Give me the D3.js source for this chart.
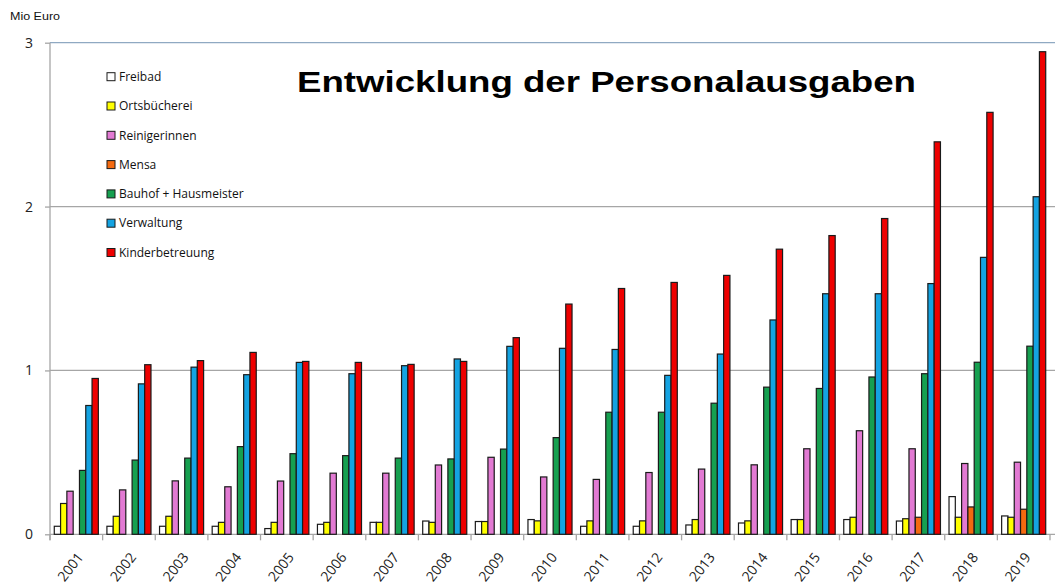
<!DOCTYPE html>
<html>
<head>
<meta charset="utf-8">
<script src="https://cdn.jsdelivr.net/npm/d3@7"></script>
<style>
  html, body { margin: 0; padding: 0; background: #fff; }
  svg { display: block; }
</style>
</head>
<body>
<svg id="chart" width="1055" height="585"></svg>
<script>
const years = ["2001","2002","2003","2004","2005","2006","2007","2008","2009","2010",
               "2011","2012","2013","2014","2015","2016","2017","2018","2019"];
const seriesNames = ["Freibad","Ortsbücherei","Reinigerinnen","Mensa","Bauhof + Hausmeister","Verwaltung","Kinderbetreuung"];
const seriesColors = ["#ffffff","#ffff00","#e27ad3","#f46a10","#16a050","#14a3e2","#ee0000"];

const freibad        = [0.049,0.049,0.049,0.049,0.035,0.061,0.073,0.081,0.078,0.090,0.049,0.049,0.057,0.069,0.090,0.090,0.081,0.230,0.112];
const ortsbuecherei  = [0.188,0.110,0.110,0.073,0.073,0.073,0.073,0.073,0.078,0.082,0.082,0.082,0.090,0.082,0.090,0.104,0.095,0.104,0.104];
const reinigerinnen  = [0.263,0.271,0.326,0.290,0.325,0.373,0.373,0.423,0.470,0.350,0.335,0.377,0.398,0.424,0.522,0.632,0.522,0.432,0.440];
const mensa          = [0,0,0,0,0,0,0,0,0,0,0,0,0,0,0,0,0.104,0.167,0.153];
const bauhof         = [0.390,0.453,0.465,0.535,0.492,0.480,0.465,0.460,0.520,0.590,0.745,0.745,0.800,0.898,0.890,0.960,0.980,1.050,1.148];
const verwaltung     = [0.786,0.918,1.020,0.974,1.049,0.980,1.029,1.070,1.147,1.135,1.128,0.970,1.100,1.308,1.468,1.468,1.530,1.690,2.060];
const kinderbetreuung= [0.951,1.035,1.060,1.110,1.055,1.049,1.037,1.055,1.200,1.405,1.500,1.537,1.580,1.740,1.823,1.927,2.395,2.575,2.945];

const yTicks = [0, 1, 2, 3];
const titleText = "Entwicklung der Personalausgaben";
const yUnitLabel = "Mio Euro";

const allSeries = [freibad, ortsbuecherei, reinigerinnen, mensa, bauhof, verwaltung, kinderbetreuung];

const svg = d3.select("#chart");
const plotLeft = 50, plotRight = 1050, plotTop = 42.7, plotBottom = 534.3;

const x0 = d3.scaleBand().domain(years).range([plotLeft, plotRight]).paddingInner(0).paddingOuter(0);
const x1 = d3.scaleBand().domain(seriesNames).range([0, x0.bandwidth()]).paddingInner(0).paddingOuter(0.68);
const y = d3.scaleLinear().domain([0, 3]).range([plotBottom, plotTop]);
const color = d3.scaleOrdinal().domain(seriesNames).range(seriesColors);

// gridlines
svg.append("g")
  .selectAll("line")
  .data(yTicks.filter(d => d > 0 && d < 3))
  .join("line")
  .attr("x1", plotLeft).attr("x2", 1055)
  .attr("y1", d => y(d)).attr("y2", d => y(d))
  .attr("stroke", "#a6a6a6").attr("stroke-width", 1.3);

// top border line
svg.append("line")
  .attr("x1", plotLeft).attr("x2", 1055)
  .attr("y1", y(3)).attr("y2", y(3))
  .attr("stroke", "#8fa9c2").attr("stroke-width", 1.3);

// y axis
const yAxis = d3.axisLeft(y).tickValues(yTicks).tickSize(5).tickPadding(12).tickFormat(d3.format("d"));
const gy = svg.append("g").attr("transform", `translate(${plotLeft},0)`).call(yAxis);
gy.select(".domain").remove();
gy.selectAll(".tick line").attr("stroke", "#a6a6a6").attr("stroke-width", 1.3);
gy.selectAll(".tick text").attr("font-family", "'Open Sans', sans-serif").attr("font-size", 14).attr("fill", "#222");
svg.append("line")
  .attr("x1", plotLeft).attr("x2", plotLeft).attr("y1", plotTop).attr("y2", plotBottom + 6)
  .attr("stroke", "#a6a6a6").attr("stroke-width", 1.3);

// x axis baseline and ticks at category boundaries
svg.append("line")
  .attr("x1", plotLeft).attr("x2", 1055).attr("y1", plotBottom).attr("y2", plotBottom)
  .attr("stroke", "#a6a6a6").attr("stroke-width", 1.3);
const boundaries = years.map(d => x0(d)).concat([x0(years[years.length-1]) + x0.bandwidth()]);
svg.append("g").selectAll("line").data(boundaries).join("line")
  .attr("x1", d => d).attr("x2", d => d).attr("y1", plotBottom).attr("y2", plotBottom + 6)
  .attr("stroke", "#a6a6a6").attr("stroke-width", 1.3);

// x labels
svg.append("g").selectAll("text").data(years).join("text")
  .attr("transform", d => `translate(${x0(d) + x0.bandwidth()/2 + 4},${plotBottom + 20}) rotate(-52)`)
  .attr("text-anchor", "end")
  .attr("dy", "0.35em")
  .attr("font-family", "'Open Sans', sans-serif")
  .attr("font-size", 14)
  .attr("fill", "#222")
  .text(d => d);

// bars
const barData = [];
years.forEach((yr, i) => {
  seriesNames.forEach((s, j) => {
    const v = allSeries[j][i];
    if (v > 0) barData.push({year: yr, series: s, value: v});
  });
});
svg.append("g").selectAll("rect").data(barData).join("rect")
  .attr("x", d => x0(d.year) + x1(d.series))
  .attr("width", x1.bandwidth())
  .attr("y", d => y(d.value))
  .attr("height", d => y(0) - y(d.value))
  .attr("fill", d => color(d.series))
  .attr("stroke", "#1a1a1a")
  .attr("stroke-width", 1.2);

// legend
const legend = svg.append("g");
seriesNames.forEach((s, i) => {
  const cy = 76.7 + i * 29.3;
  legend.append("rect")
    .attr("x", 107).attr("y", cy - 4).attr("width", 8).attr("height", 8)
    .attr("fill", color(s)).attr("stroke", "#1a1a1a").attr("stroke-width", 1);
  legend.append("text")
    .attr("x", 119).attr("y", cy).attr("dy", "0.35em")
    .attr("font-family", "'Open Sans', sans-serif").attr("font-size", 12)
    .attr("fill", "#111")
    .text(s);
});

// title
svg.append("text")
  .attr("x", 297).attr("y", 92)
  .attr("font-family", "'Liberation Sans', Arial, sans-serif")
  .attr("font-weight", "bold").attr("font-size", 29)
  .attr("textLength", 619).attr("lengthAdjust", "spacingAndGlyphs")
  .attr("fill", "#000")
  .text(titleText);

// unit label
svg.append("text")
  .attr("x", 10).attr("y", 20)
  .attr("font-family", "'Liberation Sans', Arial, sans-serif")
  .attr("font-size", 11)
  .attr("textLength", 50).attr("lengthAdjust", "spacingAndGlyphs")
  .attr("fill", "#111")
  .text(yUnitLabel);
</script>
</body>
</html>
